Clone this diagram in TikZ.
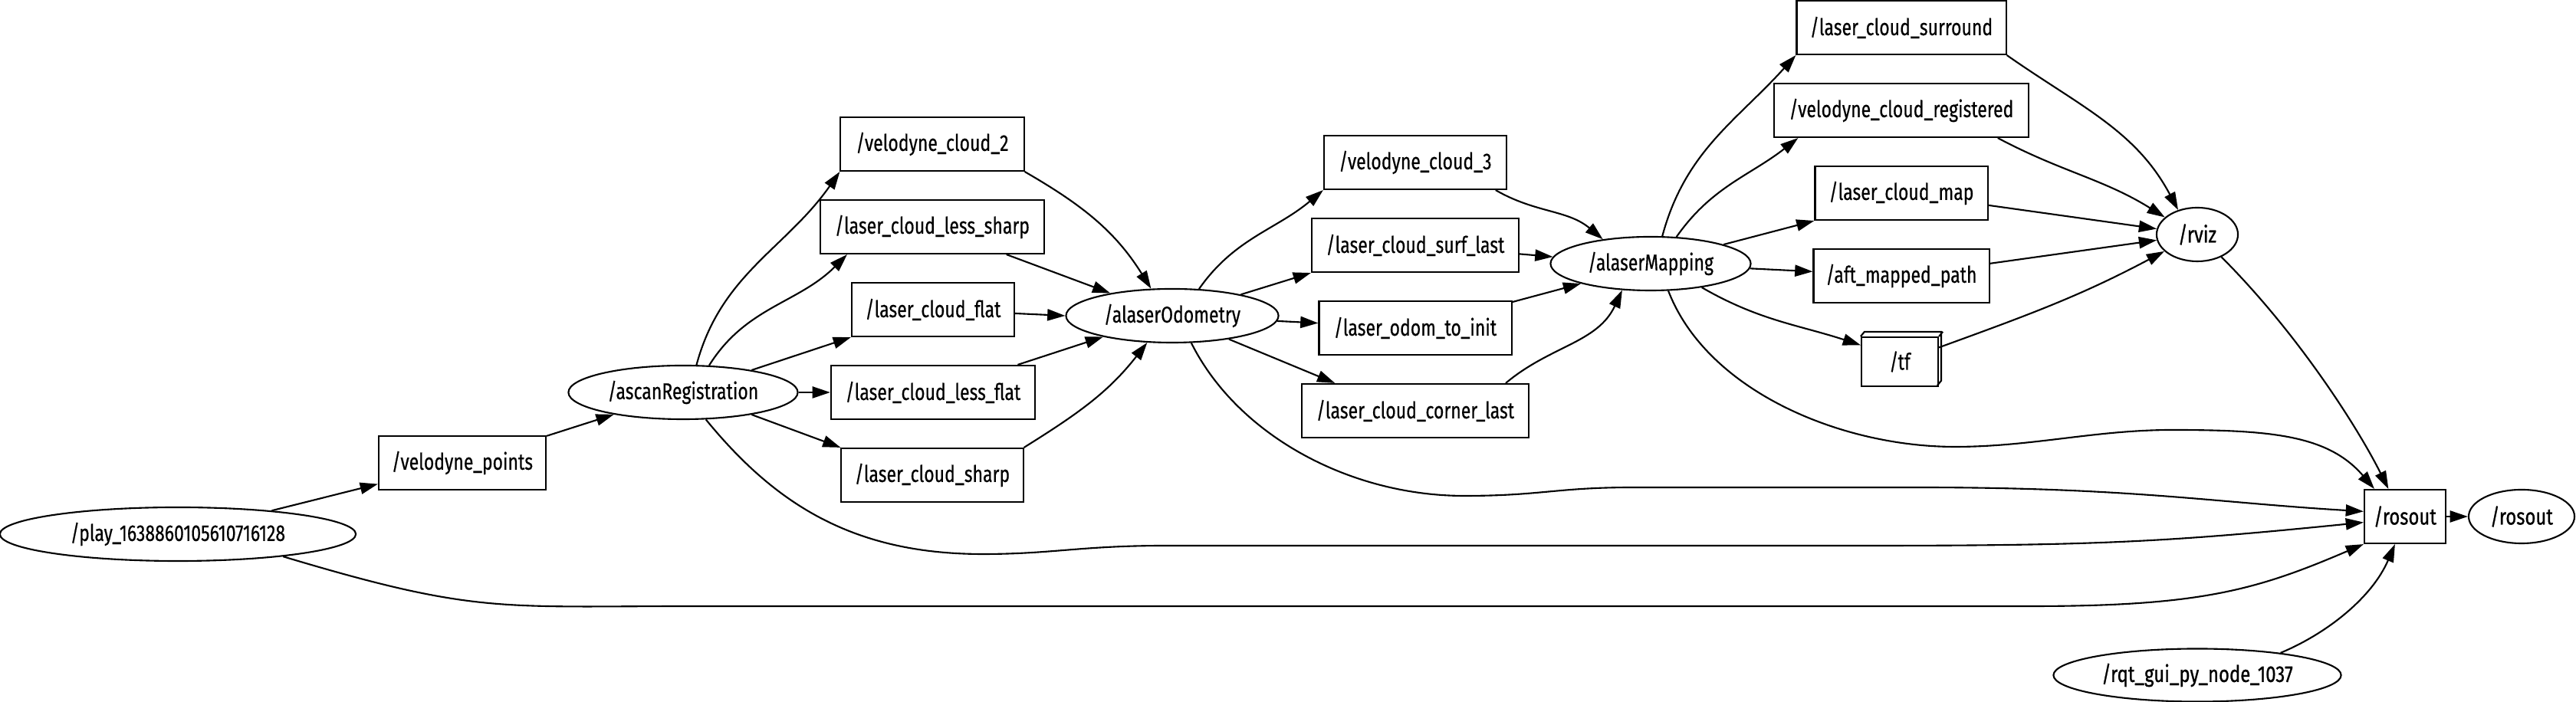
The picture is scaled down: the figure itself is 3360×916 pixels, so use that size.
\documentclass[tikz,border=0pt]{standalone}
\usepackage{fontspec}
\setmainfont{Fira Sans}
\newfontfamily\topicfont[FakeStretch=0.77,FakeBold=0.5]{Fira Sans}
\newfontfamily\rosfont[FakeStretch=0.8,FakeBold=0.9]{Fira Sans}
\usetikzlibrary{shapes.geometric,arrows.meta}

\begin{document}
\begin{tikzpicture}[x=0.01cm, y=0.01cm,
    topic/.style={draw, rectangle, line width=0.6pt, minimum height=7mm, inner sep=0pt,
      font=\topicfont\fontsize{8.5}{10}\selectfont},
    rosnode/.style={draw, ellipse, line width=0.6pt, minimum height=7mm, inner sep=0pt,
      font=\topicfont\fontsize{8.5}{10}\selectfont},
    wide/.style={font=\rosfont\fontsize{8.5}{10}\selectfont},
    edge/.style={line width=0.6pt, -{Triangle[length=6.6pt,width=4.3pt]}}]
  \useasboundingbox (0,0) rectangle (3360,916);

  % ros nodes
  \node[rosnode, minimum width=46.4mm] (play) at (232,219) {/play\_1638860105610716128};
  \node[rosnode, minimum width=29.9mm] (ascan) at (891,404) {/ascanRegistration};
  \node[rosnode, minimum width=27.7mm] (odom) at (1529,504) {/alaserOdometry};
  \node[rosnode, minimum width=26.1mm] (mapping) at (2153,572) {/alaserMapping};
  \node[rosnode, wide, minimum width=10.6mm] (rviz) at (2866,610) {/rviz};
  \node[rosnode, wide, minimum width=13.8mm] (rosoutnode) at (3289,242) {/rosout};
  \node[rosnode, wide, minimum width=37.5mm, minimum height=6.9mm] (rqt) at (2866,35) {/rqt\_gui\_py\_node\_1037};

  % topics
  \node[topic, minimum width=21.8mm] (vpoints) at (603,312) {/velodyne\_points};
  \node[topic, minimum width=23.9mm] (vc2) at (1216,728) {/velodyne\_cloud\_2};
  \node[topic, minimum width=29.1mm] (lcls) at (1216,620) {/laser\_cloud\_less\_sharp};
  \node[topic, minimum width=21.2mm] (lcf) at (1217,512) {/laser\_cloud\_flat};
  \node[topic, minimum width=26.6mm] (lclf) at (1217,404) {/laser\_cloud\_less\_flat};
  \node[topic, minimum width=23.7mm] (lcs) at (1216,296) {/laser\_cloud\_sharp};
  \node[topic, minimum width=23.8mm] (vc3) at (1846,704) {/velodyne\_cloud\_3};
  \node[topic, minimum width=27.0mm] (surf) at (1846,596) {/laser\_cloud\_surf\_last};
  \node[topic, minimum width=25.1mm] (odominit) at (1846,488) {/laser\_odom\_to\_init};
  \node[topic, minimum width=29.6mm] (corner) at (1846,380) {/laser\_cloud\_corner\_last};
  \node[topic, minimum width=27.3mm] (surround) at (2480,880) {/laser\_cloud\_surround};
  \node[topic, minimum width=33.2mm] (vcreg) at (2480,772) {/velodyne\_cloud\_registered};
  \node[topic, minimum width=22.5mm] (map) at (2480,664) {/laser\_cloud\_map};
  \node[topic, minimum width=22.9mm] (aftpath) at (2480,556) {/aft\_mapped\_path};
  \node[topic, minimum width=10mm, minimum height=6.4mm] (tf) at (2478,444) {/tf};
  \draw[line width=0.6pt] (tf.north west) -- ++(5,6) -- ++(100,0) -- ++(0,-64) -- ++(-5,-6)
    (tf.north east) -- ++(5,6);
  \node[topic, wide, minimum width=10.6mm] (rosouttopic) at (3137,242) {/rosout};

  % scan registration
  \draw[edge] (play) -- (vpoints);
  \draw[edge] (vpoints) -- (ascan);
  \draw[edge] (ascan.64) to[out=75, in=235] (vc2.south west);
  \draw[edge] (ascan.46) to[out=58, in=225] (lcls.198);
  \draw[edge] (ascan.18) -- (lcf.south west);
  \draw[edge] (ascan) -- (lclf);
  \draw[edge] (ascan.-18) -- (lcs.north west);

  % odometry
  \draw[edge] (vc2.south east) to[out=-30, in=122] (odom.128);
  \draw[edge] (lcls) -- (odom.160);
  \draw[edge] (lcf) -- (odom.west);
  \draw[edge] (lclf) -- (odom.197);
  \draw[edge] (lcs.north east) to[out=32, in=232] (odom.227);
  \draw[edge] (odom.45) to[out=55, in=220] (vc3.south west);
  \draw[edge] (odom) -- (surf.south west);
  \draw[edge] (odom) -- (odominit);
  \draw[edge] (odom) -- (corner.161);

  % mapping
  \draw[edge] (vc3.-19) to[out=-30, in=140] (mapping.153);
  \draw[edge] (surf) -- (mapping.176);
  \draw[edge] (odominit) -- (mapping.196);
  \draw[edge] (corner.17) to[out=40, in=245] (mapping.223);
  \draw[edge] (mapping.67) to[out=75, in=228] (surround.south west);
  \draw[edge] (mapping.46) to[out=55, in=218] (vcreg.195);
  \draw[edge] (mapping) -- (map.south west);
  \draw[edge] (mapping) -- (aftpath);
  \draw[edge] (mapping.-25) to[out=-30, in=162] (tf.157);

  % rviz
  \draw[edge] (surround.south east) to[out=-35, in=118] (rviz.128);
  \draw[edge] (vcreg.-16) to[out=-28, in=148] (rviz.152);
  \draw[edge] (map) -- (rviz.172);
  \draw[edge] (aftpath) -- (rviz.188);
  \draw[edge] (tf.20) to[out=20, in=208] (rviz.207);

  % rosout
  \draw[edge] (play.-12) .. controls +(250,-75) and +(-250,0) .. (900,125)
    -- (2650,125) .. controls +(220,0) and +(-140,-60) .. (rosouttopic.south west);
  \draw[edge] (ascan.-50) .. controls +(90,-110) and +(-170,0) .. (1282,193)
    .. controls +(90,0) and +(-110,0) .. (1520,204) -- (2440,204)
    .. controls +(300,0) and +(-250,-25) .. (rosouttopic.188);
  \draw[edge] (odom.-55) .. controls +(60,-120) and +(-150,0) .. (1910,269)
    .. controls +(100,0) and +(-100,0) .. (2130,280) -- (2500,280)
    .. controls +(280,0) and +(-200,12) .. (rosouttopic.173);
  \draw[edge] (mapping.-57) .. controls +(50,-130) and +(-150,0) .. (2550,333)
    .. controls +(100,0) and +(-100,0) .. (2833,355)
    .. controls +(130,0) and +(-60,70) .. (rosouttopic.138);
  \draw[edge] (rviz.-43) .. controls +(100,-100) and +(-40,80) .. (rosouttopic.121);
  \draw[edge] (rqt.15) .. controls +(60,25) and +(-30,-70) .. (rosouttopic.250);
  \draw[edge] (rosouttopic) -- (rosoutnode);
\end{tikzpicture}
\end{document}
